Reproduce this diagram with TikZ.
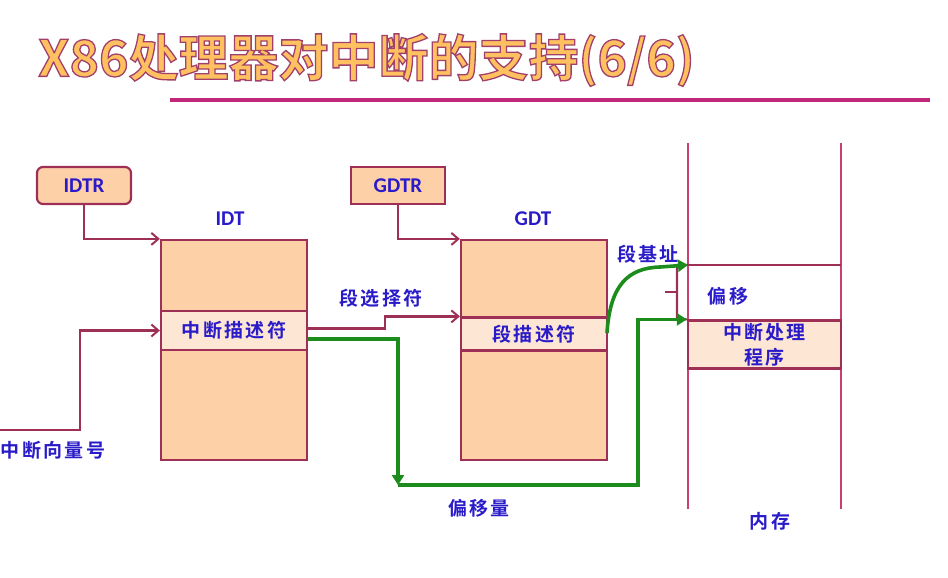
\documentclass[tikz,border=0pt]{standalone}
\usepackage{fontspec}
\usetikzlibrary{arrows.meta}
\newfontfamily\cjk{Noto Sans CJK SC}[BoldFont={Noto Sans CJK SC Bold}]
\newfontfamily\cjksp{Noto Sans CJK SC Bold}[LetterSpace=12]
\newfontfamily\lat{Carlito}
\definecolor{peach}{HTML}{FDD0A8}
\definecolor{lpeach}{HTML}{FDE6D4}
\definecolor{mar}{HTML}{9E2F55}
\definecolor{pinkl}{HTML}{C8406E}
\definecolor{txtblue}{HTML}{2A1BC9}
\definecolor{grn}{HTML}{1C8C1C}
\definecolor{ttlfill}{HTML}{FFC060}
\definecolor{bar}{HTML}{C0267A}
\tikzset{
  regbox/.style={draw=mar, line width=2.2pt, fill=peach, minimum width=94pt, minimum height=37pt, inner sep=0pt, text=txtblue, font=\lat\bfseries\fontsize{21}{21}\selectfont},
  tblbox/.style={draw=mar, line width=2.2pt, fill=peach, minimum width=146pt, minimum height=220pt, inner sep=0pt},
  stripe/.style={draw=mar, line width=2.2pt, fill=lpeach, inner sep=0pt, text=txtblue, font=\cjksp\fontsize{19}{25}\selectfont},
  lbl/.style={text=txtblue, font=\cjksp\fontsize{19}{25}\selectfont, inner sep=0pt},
  latlbl/.style={text=txtblue, font=\lat\bfseries\fontsize{21}{21}\selectfont, inner sep=0pt},
  marr/.style={draw=mar, line width=2.2pt, -{Straight Barb[length=7pt,width=12pt,line width=2pt]}},
  garr/.style={draw=grn, line width=3.6pt, -{Triangle[length=10pt,width=12pt]}},
}
\begin{document}
\begin{tikzpicture}[x=1pt,y=-1pt]
\useasboundingbox (0,0) rectangle (948,578);
% title
\node[inner sep=0pt, anchor=west] (title) at (38,60) {\cjk\bfseries\fontsize{50}{54}\selectfont\textcolor{ttlfill}{\special{pdf:literal direct 2 Tr 1.3 w 0.63 0.25 0.42 RG}X86处理器对中断的支持(6/6)\special{pdf:literal direct 0 Tr}}};
\draw[bar, line width=4.5pt] (170,100) -- (930,100);

% registers
\node[regbox, rounded corners=6pt] (idtr) at (84,185.5) {IDTR};
\node[regbox] (gdtr) at (398,185.5) {GDTR};

% tables
\node[tblbox] (idt) at (234,350) {};
\node[stripe, minimum width=146pt, minimum height=39pt] (idtd) at (234,330.5) {中断描述符};
\node[tblbox] (gdt) at (534,350) {};
\node[stripe, minimum width=146pt, minimum height=33pt] (gdtd) at (534,334) {段描述符};
\node[latlbl] (idtl) at (230,219) {IDT};
\node[latlbl] (gdtl) at (533,219) {GDT};

% memory
\coordinate (mlt) at (688,143);
\coordinate (mlb) at (688,509);
\coordinate (mrt) at (841,143);
\coordinate (mrb) at (841,509);
\draw[pinkl, line width=2.2pt] (mlt) -- (mlb);
\draw[pinkl, line width=2.2pt] (mrt) -- (mrb);
\coordinate (segl) at (688,265);
\coordinate (segr) at (841,265);
\draw[mar, line width=2.2pt] (segl) -- (segr);
\node[stripe, minimum width=153pt, minimum height=48pt, align=center] (isr) at (764.5,344.5) {中断处理\\程序};
\node[lbl] (meml) at (770,521) {内存};
\node[lbl] (offl) at (728,296) {偏移};

% bracket
\coordinate (bt) at (677,265);
\coordinate (bb) at (677,319);
\coordinate (bm) at (677,292);
\coordinate (tick) at (665,292);
\draw[mar, line width=2.2pt] (segl) -- (bt) -- (bb) -- (isr.north west);
\draw[mar, line width=2.2pt] (bm) -- (tick);

% maroon arrows
\draw[marr] (idtr.south) |- (idt.north west);
\draw[marr] (gdtr.south) |- (gdt.north west);
\coordinate (vin) at (0,430);
\draw[marr] (vin) -- (80,430) |- (idtd.west);
\node[lbl] (vecl) at (53,450) {中断向量号};
\draw[marr] ([yshift=2pt]idtd.east) -- (385,328.5) |- (gdtd.north west);
\node[lbl] (sell) at (381,298) {段选择符};

% green paths
\coordinate (gdown) at (398,485);
\draw[garr] ([yshift=-8.5pt]idtd.east) -| (gdown);
\draw[garr] (gdown) -- (638,485) |- (isr.north west);
\node[lbl] (offql) at (479,508) {偏移量};
\draw[garr] (607,333) .. controls (610,285) and (628,268) .. (660,267) -- (segl);
\node[lbl] (basel) at (648,254) {段基址};
\end{tikzpicture}
\end{document}
